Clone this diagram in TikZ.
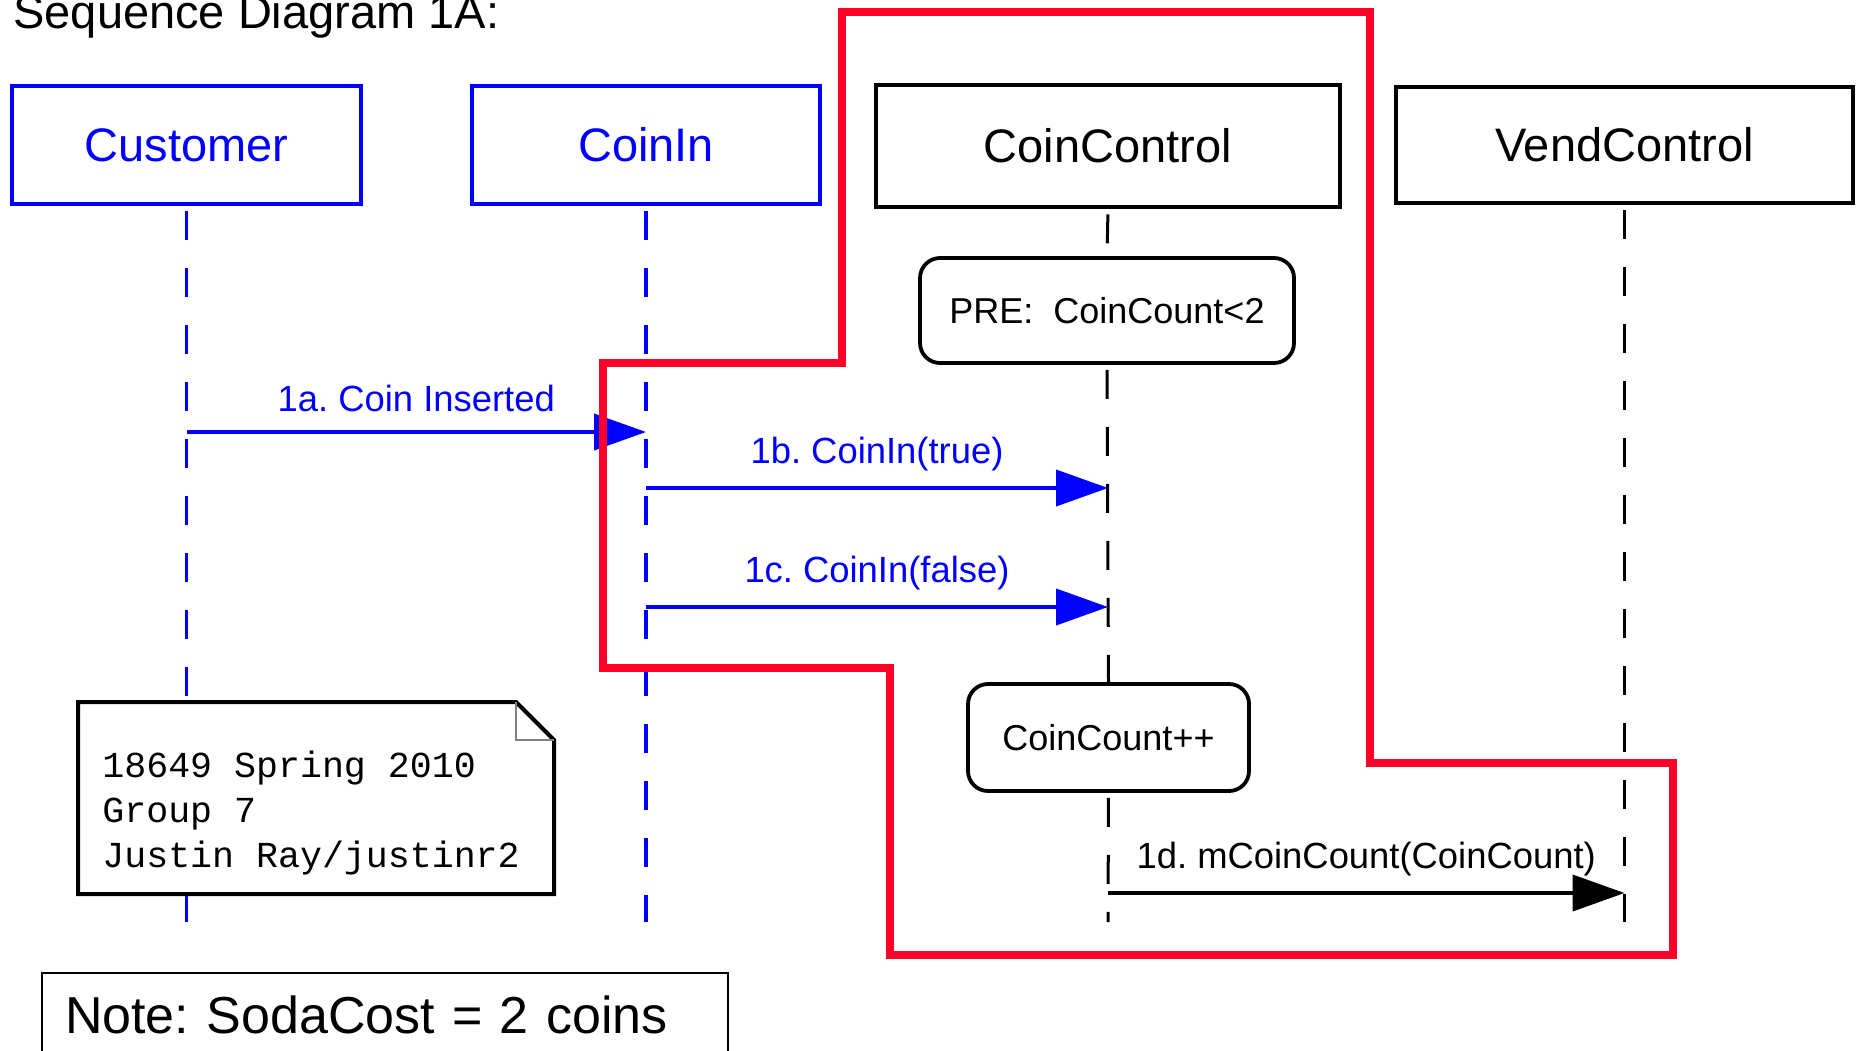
\documentclass[tikz,border=0pt]{standalone}
\usepackage{fontspec}
\setmainfont{Liberation Sans}
\setmonofont{Liberation Mono}
\usetikzlibrary{arrows.meta,positioning,calc}
\definecolor{lineblue}{RGB}{0,0,255}
\definecolor{markred}{RGB}{255,0,40}
\frenchspacing

\begin{document}
\begin{tikzpicture}[x=0.5pt,y=-0.5pt,
    actor/.style={rectangle, draw, line width=2.4pt, minimum height=59pt, inner sep=0pt, font=\fontsize{23.5}{28}\selectfont},
    bluactor/.style={actor, line width=2.1pt, draw=lineblue, text=lineblue},
    state/.style={rectangle, draw, line width=1.9pt, rounded corners=10pt, inner sep=0pt, font=\fontsize{18}{22}\selectfont},
    lifeline/.style={line width=1.5pt, dash pattern=on 14.5pt off 14pt, dash phase=26pt},
    msg/.style={line width=2pt, -{Triangle[length=26pt,width=18pt]}},
    msglabel/.style={midway, anchor=base, inner sep=0pt, yshift=12.5pt, font=\fontsize{18.2}{22}\selectfont},
    memotext/.style={inner sep=0pt, align=left, font=\ttfamily\fontsize{18.3}{22.5}\selectfont},
    redline/.style={draw=markred, line width=3.75pt, line join=miter}
]
\useasboundingbox (0,0) rectangle (1856,1050);
\clip (0,0) rectangle (1856,1050);
\fill[white] (0,0) rectangle (1856,1050);

% Title
\node[anchor=base west, inner sep=0pt, font=\fontsize{23.5}{28}\selectfont] (title) at (13,28) {Sequence Diagram 1A:};

% Objects
\node[bluactor, minimum width=174.5pt] (cust) at (186.5,145) {Customer};
\node[bluactor, minimum width=174pt] (coinin) at (646,145) {CoinIn};
\node[actor, minimum width=232pt, minimum height=61pt] (cc) at (1108,146) {CoinControl};
\node[actor, minimum width=228.5pt, minimum height=58pt] (vc) at (1624.5,145) {VendControl};

% States on CoinControl
\node[state, minimum width=187pt, minimum height=52.5pt] (pre) at (1107,310.5) {PRE:\ \ CoinCount<2};
\node[state, minimum width=140.5pt, minimum height=53.5pt] (inc) at (1108.5,737.5) {CoinCount++};

% Lifelines
\coordinate (bottom) at (0,922);
\draw[lifeline, lineblue, line width=1.9pt] (cust.south) -- (cust.south |- bottom);
\draw[lifeline, lineblue, line width=1.9pt] (coinin.south) -- (coinin.south |- bottom);
\draw[lifeline] (cc.south) -- (pre.north);
\draw[lifeline] (pre.south) -- (inc.north);
\draw[lifeline] (inc.south) -- (cc.south |- bottom);
\draw[lifeline] (vc.south) -- (vc.south |- bottom);

% Messages
\coordinate (m1a) at (0,432);
\coordinate (m1b) at (0,488);
\coordinate (m1c) at (0,607);
\coordinate (m1d) at (0,893);
\draw[msg, lineblue] (cust |- m1a) -- (coinin |- m1a) node[msglabel, yshift=-2pt] {1a. Coin Inserted};
\draw[msg, lineblue] (coinin |- m1b) -- (cc |- m1b) node[msglabel] {1b. CoinIn(true)};
\draw[msg, lineblue] (coinin |- m1c) -- (cc |- m1c) node[msglabel] {1c. CoinIn(false)};
\draw[msg] (cc |- m1d) -- (vc |- m1d) node[msglabel] {1d. mCoinCount(CoinCount)};

% Memo
\fill[white] (78,702) -- (516,702) -- (554,740) -- (554,894) -- (78,894) -- cycle;
\draw[line width=2pt, line join=miter] (78,702) -- (516,702) -- (554,740) -- (554,894) -- (78,894) -- cycle;
\draw[gray, line width=1pt] (516,702) |- (554,740);
\node[memotext, anchor=west] (memo) at (102,813) {18649 Spring 2010\\Group 7\\Justin Ray/justinr2};

% Cost note
\node[draw, line width=1pt, anchor=north west, inner xsep=11.5pt, inner ysep=11.5pt, text width=320pt, align=left, font=\fontsize{26}{30}\selectfont] (soda) at (41,972) {Note: SodaCost = 2 coins};

% Highlight
\draw[redline] (842,12) -- (1370,12) -- (1370,763) -- (1673,763) -- (1673,955) -- (890,955) -- (890,668) -- (603,668) -- (603,363) -- (842,363) -- cycle;

\end{tikzpicture}
\end{document}
